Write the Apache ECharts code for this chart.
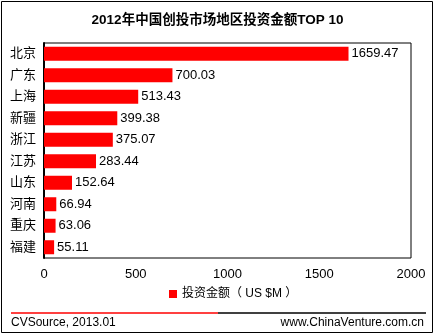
<!DOCTYPE html>
<html><head><meta charset="utf-8">
<script src="https://cdn.jsdelivr.net/npm/echarts@6/dist/echarts.min.js"></script>
<style>html,body{margin:0;padding:0;background:#fff}#c{width:435px;height:335px}</style>
</head><body><div id="c"></div>
<script>
var categories = ['北京','广东','上海','新疆','浙江','江苏','山东','河南','重庆','福建'];
var values = [1659.47, 700.03, 513.43, 399.38, 375.07, 283.44, 152.64, 66.94, 63.06, 55.11];
var xTicks = [0, 500, 1000, 1500, 2000];
var seriesName = '投资金额（ US $M ）';
var titleText = '2012年中国创投市场地区投资金额TOP 10';

var FONT = '"Liberation Sans", Arial, "Noto Sans CJK SC", sans-serif';
var chart = echarts.init(document.getElementById('c'));
chart.setOption({
  animation: false,
  title: {text: titleText, left: 'center', top: 9,
    textStyle: {fontSize: 13.5, fontWeight: 'bold', color: '#000', fontFamily: FONT}},
  legend: {data: [seriesName], bottom: 30, left: 164, icon: 'rect', itemWidth: 8, itemHeight: 8, itemGap: 2,
    textStyle: {fontSize: 12, color: '#000', fontFamily: FONT}},
  grid: {left: 44, right: 24, top: 43, bottom: 77, show: true, borderColor: '#000', borderWidth: 1},
  xAxis: {type: 'value', min: xTicks[0], max: xTicks[xTicks.length-1], interval: 500,
    axisLine: {show: false}, axisTick: {show: false}, splitLine: {show: false},
    axisLabel: {color: '#000', fontSize: 13, margin: 10, fontFamily: FONT, formatter: function(v){return String(v);}}},
  yAxis: {type: 'category', data: categories, inverse: true,
    axisLine: {show: true, lineStyle: {color: '#000', width: 2}}, axisTick: {show: false},
    axisLabel: {color: '#000', fontSize: 13, margin: 8, fontFamily: FONT}},
  series: [{name: seriesName, type: 'bar', data: values, barWidth: 14,
    itemStyle: {color: '#ff0000'},
    label: {show: true, position: 'right', distance: 3, color: '#000', fontSize: 13, fontFamily: FONT,
      formatter: function(p){return p.value.toFixed(2);}}}],
  graphic: [
    {type: 'rect', shape: {x: 1.5, y: 1.5, width: 431, height: 331}, style: {fill: null, stroke: '#000', lineWidth: 1}, silent: true},
    {type: 'line', shape: {x1: 11, y1: 313, x2: 218, y2: 313}, style: {stroke: '#ff0000', lineWidth: 1.5}},
    {type: 'line', shape: {x1: 218, y1: 313, x2: 426, y2: 313}, style: {stroke: '#000', lineWidth: 1.5}},
    {type: 'text', left: 11, top: 317, style: {text: 'CVSource, 2013.01', fontSize: 12, fill: '#000', fontFamily: FONT}},
    {type: 'text', right: 11, top: 317, style: {text: 'www.ChinaVenture.com.cn', fontSize: 12, fill: '#000', fontFamily: FONT}}
  ]
});
</script></body></html>
